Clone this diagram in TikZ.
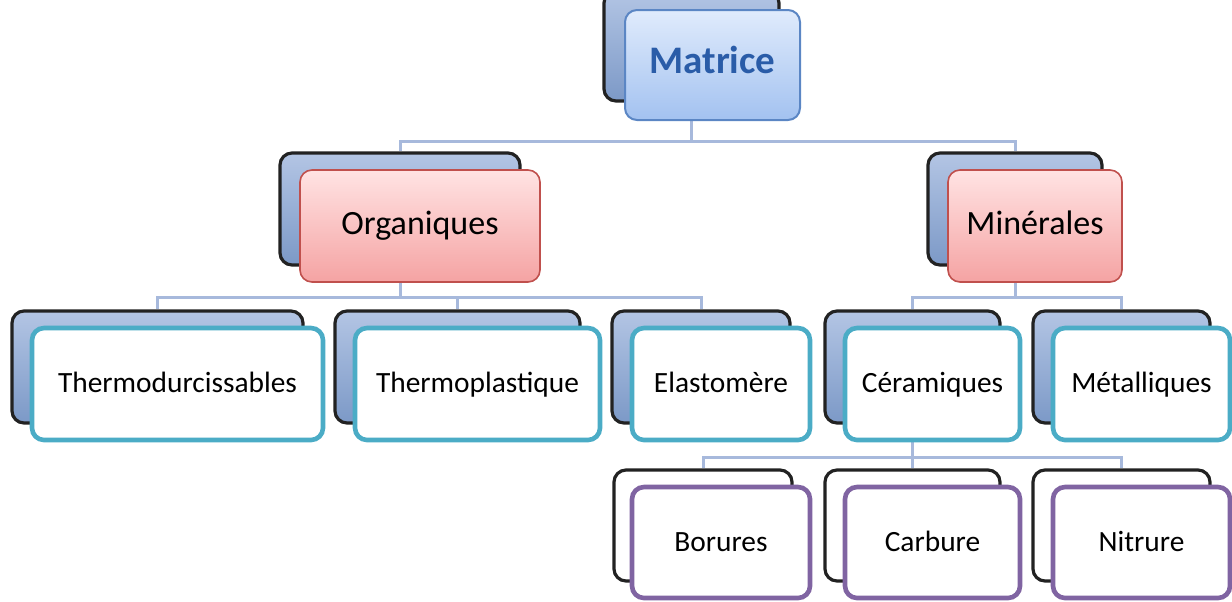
\documentclass[tikz,border=0pt]{standalone}
\usepackage{fontspec}
\setmainfont{Carlito}
\usetikzlibrary{backgrounds}

\definecolor{linkblue}{HTML}{A7B9DC}
\definecolor{backtop}{HTML}{B3C5E4}
\definecolor{backbot}{HTML}{7C99C7}
\definecolor{backline}{HTML}{222222}
\definecolor{mattop}{HTML}{E0EBFC}
\definecolor{matbot}{HTML}{A3C2F0}
\definecolor{matline}{HTML}{5B86C4}
\definecolor{mattext}{HTML}{2A5CA8}
\definecolor{pinktop}{HTML}{FFE3E3}
\definecolor{pinkbot}{HTML}{F5A3A3}
\definecolor{pinkline}{HTML}{C0504D}
\definecolor{tealline}{HTML}{4BACC6}
\definecolor{purpline}{HTML}{8064A2}

\tikzset{
  card/.style={rounded corners=6pt, inner sep=0pt, minimum height=56pt,
    text height=0.9em, text depth=0.04em},
  backcard/.style={card, draw=backline, line width=1.6pt, top color=backtop, bottom color=backbot},
  plaincard/.style={card, draw=backline, line width=1.6pt, fill=white},
  rootcard/.style={card, draw=matline, line width=1pt, top color=mattop, bottom color=matbot,
    font=\fontsize{19.5}{22}\selectfont\bfseries, text=mattext},
  groupcard/.style={card, draw=pinkline, line width=0.8pt, top color=pinktop, bottom color=pinkbot,
    font=\fontsize{17}{20}\selectfont},
  leafcard/.style={card, draw=tealline, line width=2.3pt, fill=white, font=\fontsize{14.7}{17}\selectfont},
  subcard/.style={card, draw=purpline, line width=2.3pt, fill=white, font=\fontsize{14.7}{17}\selectfont},
  link/.style={draw=linkblue, line width=1.5pt}
}

\begin{document}
\begin{tikzpicture}[x=0.5pt,y=-0.5pt]
  \useasboundingbox (0,0) rectangle (1232,601);

  % level 1
  \node[backcard, minimum width=87.5pt, minimum height=55pt] (matb) at (691.5,46) {};
  \node[rootcard, minimum width=87.5pt, minimum height=55pt] (mat) at (712.5,65) {Matrice};

  % level 2
  \node[backcard, minimum width=120pt] (orgb) at (400,209) {};
  \node[groupcard, minimum width=120pt] (org) at (420,226) {Organiques};
  \node[backcard, minimum width=87pt] (minb) at (1015,209) {};
  \node[groupcard, minimum width=87pt] (min) at (1035,226) {Minérales};

  % level 3
  \node[backcard, minimum width=145.5pt] (thdb) at (157.5,367) {};
  \node[leafcard, minimum width=145.5pt] (thd) at (177.5,384) {Thermodurcissables};
  \node[backcard, minimum width=122.5pt] (thpb) at (457.5,367) {};
  \node[leafcard, minimum width=122.5pt] (thp) at (477.5,384) {Thermoplastique};
  \node[backcard, minimum width=89pt] (elab) at (701,367) {};
  \node[leafcard, minimum width=89pt] (ela) at (721,384) {Elastomère};
  \node[backcard, minimum width=87.5pt] (cerb) at (912.5,367) {};
  \node[leafcard, minimum width=87.5pt] (cer) at (932.5,384) {Céramiques};
  \node[backcard, minimum width=88.5pt] (metb) at (1121.5,367) {};
  \node[leafcard, minimum width=88.5pt] (met) at (1141.5,384) {Métalliques};

  % level 4
  \node[plaincard, minimum width=89pt, minimum height=55.5pt] (borb) at (703,525.5) {};
  \node[subcard, minimum width=89pt, minimum height=55.5pt] (bor) at (721,542.5) {Borures};
  \node[plaincard, minimum width=87.5pt, minimum height=55.5pt] (carb) at (912.5,525.5) {};
  \node[subcard, minimum width=87.5pt, minimum height=55.5pt] (car) at (932.5,542.5) {Carbure};
  \node[plaincard, minimum width=88.5pt, minimum height=55.5pt] (nitb) at (1121.5,525.5) {};
  \node[subcard, minimum width=88.5pt, minimum height=55.5pt] (nit) at (1141.5,542.5) {Nitrure};

  % connectors
  \begin{scope}[on background layer]
    \foreach \c in {orgb,minb}
      \draw[link] (matb.south) -- ++(0,39) -| (\c.north);
    \foreach \c in {thdb,thpb,elab}
      \draw[link] (orgb.south) -- ++(0,31) -| (\c.north);
    \foreach \c in {cerb,metb}
      \draw[link] (minb.south) -- ++(0,31) -| (\c.north);
    \foreach \c in {borb,carb,nitb}
      \draw[link] (cerb.south) -- ++(0,33) -| (\c.north);
  \end{scope}
\end{tikzpicture}
\end{document}
